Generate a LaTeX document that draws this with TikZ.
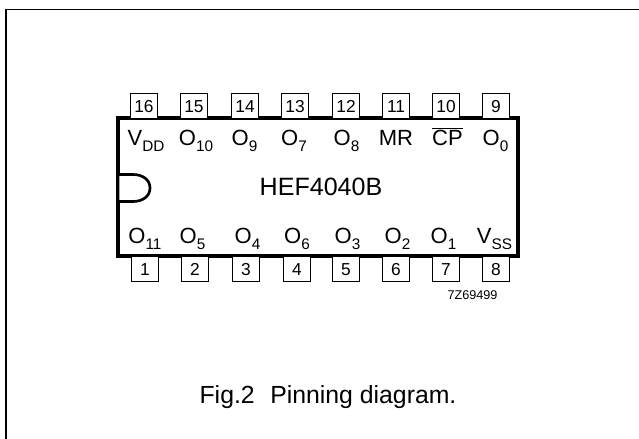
\documentclass[tikz,border=0pt]{standalone}
\usepackage{fontspec}
\setmainfont{Liberation Sans}
\tikzset{
  x=0.75pt,y=-0.75pt,
  frame/.style={draw=black,line width=1.3pt},
  body/.style={draw=black,line width=3pt,fill=white},
  notch/.style={draw=black,line width=2pt,fill=white},
  pinbox/.style={draw=black,line width=1.1pt,fill=white,minimum width=20.2pt,minimum height=19pt,inner sep=0pt,text height=9.4pt,text depth=0pt,font=\fontsize{13}{14}\selectfont},
  lbl/.style={inner sep=0pt,font=\fontsize{16.5}{18}\selectfont,anchor=base},
  chip/.style={inner sep=0pt,font=\fontsize{18.8}{20}\selectfont,anchor=base},
  code/.style={inner sep=0pt,font=\fontsize{9.5}{11}\selectfont},
  caption/.style={inner sep=0pt,font=\fontsize{18.6}{20}\selectfont,anchor=base}
}
\newcommand{\sbs}[2]{#1\raisebox{-4.5pt}{\fontsize{11.5}{12}\selectfont #2}}
\begin{document}
\begin{tikzpicture}
\useasboundingbox (0,0) rectangle (639,439);
\path[frame] (6,439) -- (6,9.5) -- (639,9.5);
\path[body] (118,118) rectangle (518,256);
\path[notch] (118,174.5) -- (133,174.5) .. controls (143,174.5) and (150,180) .. (150,188) .. controls (150,196) and (143,201.5) .. (133,201.5) -- (118,201.5) -- cycle;
\foreach \n/\x in {16/144,15/194,14/245,13/295,12/346,11/396,10/446,9/496}
  \node[pinbox] (t\n) at (\x,106) {\n};
\foreach \n/\x in {1/145,2/195,3/246,4/297,5/346,6/396,7/446,8/496}
  \node[pinbox] (b\n) at (\x,269) {\n};
\node[lbl] (lVDD) at (146,145) {\sbs{V}{DD}};
\node[lbl] (lO10) at (196,145) {\sbs{O}{10}};
\node[lbl] (lO9) at (244.5,145) {\sbs{O}{9}};
\node[lbl] (lO7) at (294,145) {\sbs{O}{7}};
\node[lbl] (lO8) at (346.5,145) {\sbs{O}{8}};
\node[lbl] (lMR) at (396,145) {MR};
\node[lbl] (lCP) at (447.5,145) {$\overline{\mbox{CP}}$};
\node[lbl] (lO0) at (495.5,145) {\sbs{O}{0}};
\node[chip] (name) at (321,195) {HEF4040B};
\node[lbl] (lO11) at (145,243) {\sbs{O}{11}};
\node[lbl] (lO5) at (192.5,243) {\sbs{O}{5}};
\node[lbl] (lO4) at (247.5,243) {\sbs{O}{4}};
\node[lbl] (lO6) at (297,243) {\sbs{O}{6}};
\node[lbl] (lO3) at (347.5,243) {\sbs{O}{3}};
\node[lbl] (lO2) at (397.5,243) {\sbs{O}{2}};
\node[lbl] (lO1) at (443.5,243) {\sbs{O}{1}};
\node[lbl] (lVSS) at (494.5,243) {\sbs{V}{SS}};
\node[code] (code) at (472.5,295) {7Z69499};
\node[caption] (cap) at (328,403) {Fig.2\hspace{0.35em} Pinning diagram.};
\end{tikzpicture}
\end{document}
